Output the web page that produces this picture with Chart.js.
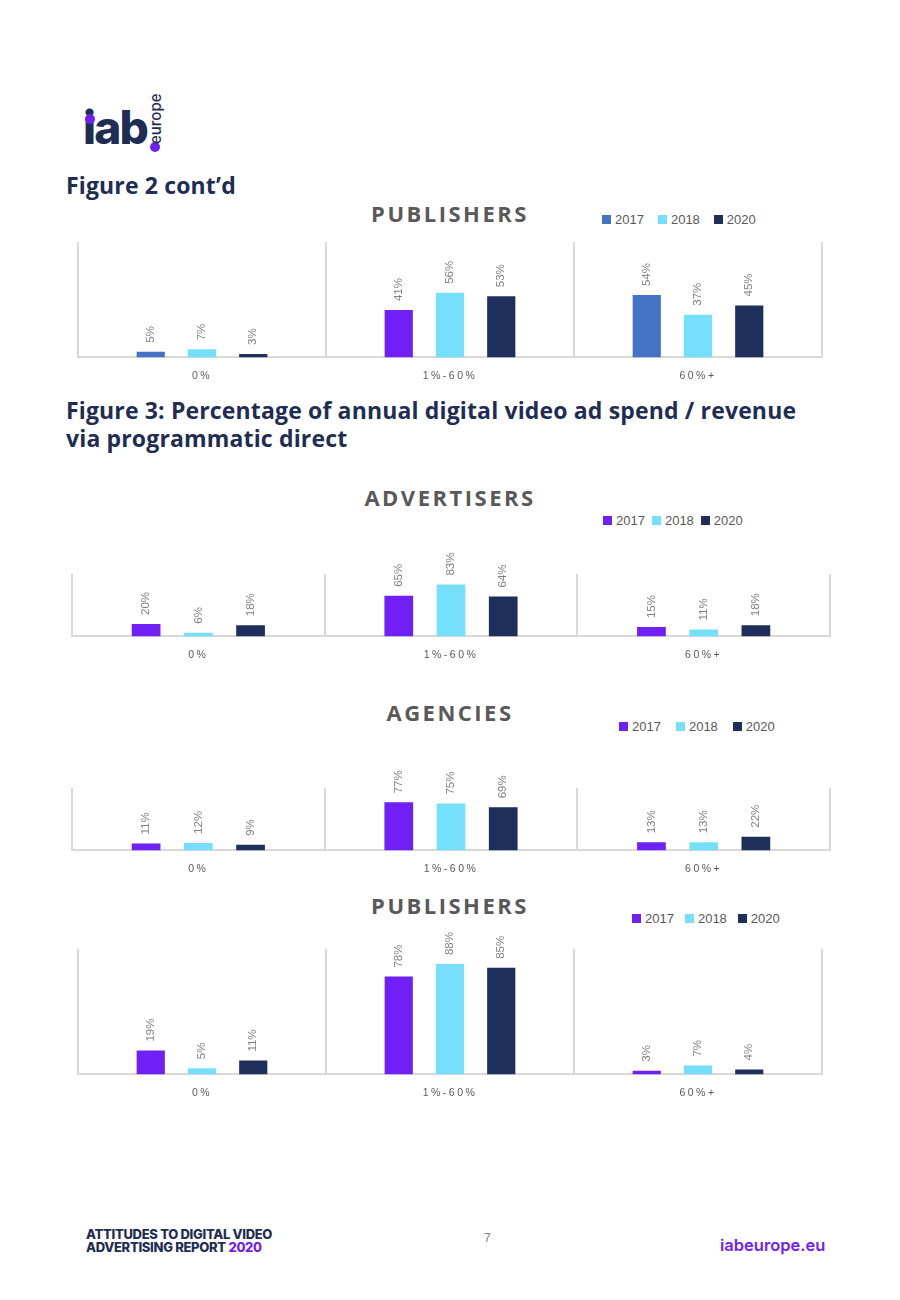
<!DOCTYPE html>
<html>
<head>
<meta charset="utf-8">
<script src="https://cdn.jsdelivr.net/npm/chart.js@4.4.1/dist/chart.umd.min.js"></script>
<style>
  body { margin: 0; width: 900px; height: 1300px; position: relative; background: #fff; overflow: hidden; font-family: "Open Sans", sans-serif; }
  .abs { position: absolute; }
  .logo { left: 83px; top: 104px; font-family: Inter, sans-serif; font-weight: 800; font-size: 46px; line-height: 46px; color: #1f2d54; letter-spacing: -1.8px; }
  .dot { width: 10px; height: 10px; border-radius: 50%; background: #7020f5; }
  .europe { left: 148px; top: 144px; font-family: Inter, sans-serif; font-weight: 500; font-size: 15px; line-height: 15px; color: #1f2d54; transform-origin: 0 0; transform: rotate(-90deg); }
  .heading { left: 66px; font-weight: 700; font-size: 23px; line-height: 28px; color: #1f2d54; letter-spacing: 0.15px; }
  .ctitle { left: 0; width: 900px; text-align: center; font-weight: 700; font-size: 22px; line-height: 26px; letter-spacing: 2.5px; color: #595959; }
  .legend { display: flex; align-items: center; height: 16px; font-family: "Liberation Sans", sans-serif; font-size: 13px; color: #595959; }
  .legend span.sw { display: inline-block; width: 9px; height: 9px; margin-right: 4px; }
  .legend span.it { display: inline-flex; align-items: center; }
  canvas { position: absolute; left: 0; }
  .foot { left: 86px; top: 1228px; font-family: Inter, sans-serif; font-weight: 800; font-size: 13px; line-height: 13px; color: #1f2d54; letter-spacing: -0.3px; }
</style>
</head>
<body>

<div class="abs logo">iab</div>
<div class="abs dot" style="left:85px;top:114px;"></div>
<div class="abs dot" style="left:150px;top:142px;"></div>
<div class="abs europe">europe</div>

<div class="abs heading" style="top:171px;">Figure 2 cont’d</div>
<div class="abs heading" style="top:396px;">Figure 3: Percentage of annual digital video ad spend / revenue<br>via programmatic direct</div>

<div class="abs ctitle" style="top:200px;">PUBLISHERS</div>
<div class="abs ctitle" style="top:484px;">ADVERTISERS</div>
<div class="abs ctitle" style="top:699px;">AGENCIES</div>
<div class="abs ctitle" style="top:892px;">PUBLISHERS</div>

<div class="abs legend" id="leg1" style="left:602px;top:211px;"></div>
<div class="abs legend" id="leg2" style="left:603px;top:512px;"></div>
<div class="abs legend" id="leg3" style="left:619px;top:718px;"></div>
<div class="abs legend" id="leg4" style="left:632px;top:910px;"></div>

<canvas id="c1"></canvas>
<canvas id="c2"></canvas>
<canvas id="c3"></canvas>
<canvas id="c4"></canvas>

<div class="abs foot">ATTITUDES TO DIGITAL VIDEO<br>ADVERTISING REPORT <span style="color:#7020f5">2020</span></div>
<div class="abs" style="left:484px;top:1231px;font-family:'Liberation Sans',sans-serif;font-size:12px;color:#808080;">7</div>
<div class="abs" style="left:720px;top:1235px;font-family:Inter,sans-serif;font-weight:600;font-size:16.5px;color:#7020f5;">iabeurope.eu</div>

<script>
var categories = ['0%', '1%-60%', '60%+'];
var years = ['2017', '2018', '2020'];

// Figure 2 cont'd - publishers
var pubA2017 = [5, 41, 54];
var pubA2018 = [7, 56, 37];
var pubA2020 = [3, 53, 45];

// Figure 3 - advertisers
var adv2017 = [20, 65, 15];
var adv2018 = [6, 83, 11];
var adv2020 = [18, 64, 18];

// Figure 3 - agencies
var agc2017 = [11, 77, 13];
var agc2018 = [12, 75, 13];
var agc2020 = [9, 69, 22];

// Figure 3 - publishers
var pubB2017 = [19, 78, 3];
var pubB2018 = [5, 88, 7];
var pubB2020 = [11, 85, 4];

var purple = '#7020f5';
var light = '#75dffc';
var navy = '#1f2f5b';
var blue = '#4472c4';

// bar value labels, rotated like in the report
var barLabels = {
    id: 'barLabels',
    beforeLayout: function (chart) { chart.ctx.letterSpacing = '2.5px'; },
    beforeDraw: function (chart) { chart.ctx.letterSpacing = '2.5px'; },
    afterDatasetsDraw: function (chart) {
        var ctx = chart.ctx;
        ctx.save();
        ctx.letterSpacing = '0px';
        ctx.font = '11.5px "Liberation Sans", sans-serif';
        ctx.fillStyle = '#7f7f7f';
        ctx.textAlign = 'left';
        ctx.textBaseline = 'middle';
        chart.data.datasets.forEach(function (ds, i) {
            chart.getDatasetMeta(i).data.forEach(function (bar, j) {
                ctx.save();
                ctx.translate(bar.x, bar.y - 9);
                ctx.rotate(-Math.PI / 2);
                ctx.fillText(ds.data[j] + '%', 0, 0);
                ctx.restore();
            });
        });
        ctx.restore();
    }
};

function makeLegend(id, colors, gap) {
    var el = document.getElementById(id);
    years.forEach(function (y, i) {
        var it = document.createElement('span');
        it.className = 'it';
        it.style.marginRight = gap + 'px';
        it.innerHTML = '<span class="sw" style="background:' + colors[i] + '"></span>' + y;
        el.appendChild(it);
    });
}

function makeChart(id, box, series, colors) {
    var padTop = 40;
    var canvas = document.getElementById(id);
    var h = padTop + (box.bottom - box.top) + 36 + 2;
    canvas.width = 900;
    canvas.height = h;
    canvas.style.width = '900px';
    canvas.style.height = h + 'px';
    canvas.style.top = (box.top - padTop) + 'px';

    return new Chart(canvas.getContext('2d'), {
        type: 'bar',
        data: {
            labels: categories,
            datasets: series.map(function (s, i) {
                return {
                    label: years[i],
                    data: s,
                    backgroundColor: colors[i],
                    categoryPercentage: 0.62,
                    barPercentage: 0.55
                };
            })
        },
        options: {
            responsive: false,
            animation: false,
            layout: { padding: { left: box.left, right: 900 - box.right, top: padTop, bottom: 2 } },
            plugins: { legend: { display: false }, tooltip: { enabled: false } },
            scales: {
                x: {
                    grid: { offset: true, color: '#d9d9d9', lineWidth: 2, drawTicks: false },
                    border: { display: true, color: '#d9d9d9', width: 2 },
                    ticks: { color: '#595959', padding: 12, font: { family: 'Liberation Sans', size: 10.5 } }
                },
                y: { display: false, min: 0, max: 100 }
            }
        },
        plugins: [barLabels]
    });
}

makeLegend('leg1', [blue, light, navy], 14);
makeLegend('leg2', [purple, light, navy], 7);
makeLegend('leg3', [purple, light, navy], 15);
makeLegend('leg4', [purple, light, navy], 11);

makeChart('c1', { left: 78, right: 822, top: 242, bottom: 358 },
    [pubA2017, pubA2018, pubA2020], [[blue, purple, blue], light, navy]);
makeChart('c2', { left: 72, right: 830, top: 574, bottom: 637 },
    [adv2017, adv2018, adv2020], [purple, light, navy]);
makeChart('c3', { left: 72, right: 830, top: 788, bottom: 851 },
    [agc2017, agc2018, agc2020], [purple, light, navy]);
makeChart('c4', { left: 78, right: 822, top: 949, bottom: 1075 },
    [pubB2017, pubB2018, pubB2020], [purple, light, navy]);
</script>
</body>
</html>
